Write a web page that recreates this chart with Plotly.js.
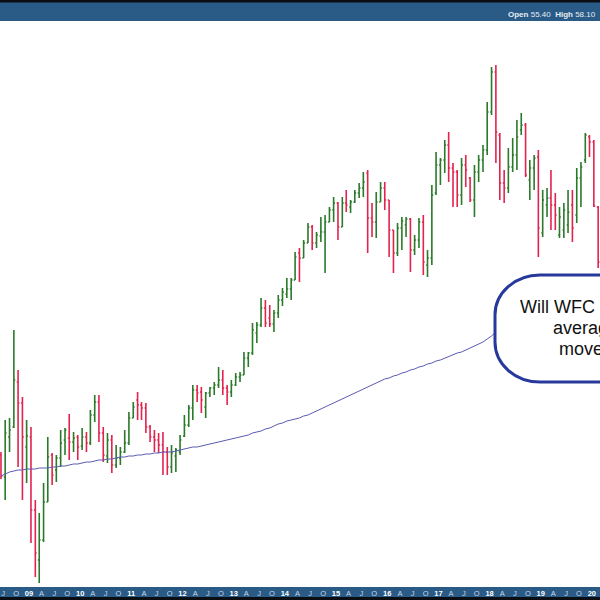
<!DOCTYPE html>
<html><head><meta charset="utf-8">
<script src="https://cdn.plot.ly/plotly-3.0.1.min.js"></script>
<style>html,body{margin:0;padding:0;background:#fff}#chart{width:600px;height:600px}</style>
</head><body><div id="chart"></div>
<script>
// Monthly bars, first bar = June 2008
const firstYear = 2008, firstMonth = 6;

const open = [
19.5,17.3,21.3,22.3,26.8,24.7,20.3,
21.3,14.0,9.0,11.0,14.8,19.5,18.0,19.2,21.0,21.2,20.8,21.3,
20.4,21.3,20.7,23.5,24.8,21.7,19.4,21.0,18.5,19.2,19.8,20.7,
23.2,25.0,24.5,24.2,22.3,21.3,21.0,20.5,19.8,18.3,19.4,19.8,
21.4,22.5,24.2,26.0,25.8,24.3,25.7,26.2,26.5,27.0,26.2,25.8,
26.5,27.3,27.5,29.2,29.7,31.7,32.5,34.2,33.2,32.6,33.7,35.0,
35.6,36.1,37.0,39.7,39.2,40.7,42.3,40.7,41.4,41.8,42.8,44.0,
44.7,42.3,44.7,44.3,44.8,45.7,46.2,47.7,43.2,42.8,44.8,46.2,
45.0,42.0,39.7,42.2,42.5,43.1,40.0,41.0,42.8,38.5,39.2,45.7,
48.5,49.0,50.5,48.2,47.8,45.5,48.5,47.2,45.0,47.8,49.0,50.0,
53.8,57.8,51.5,46.7,46.2,48.3,49.5,52.0,52.5,47.0,48.2,49.3,
41.7,44.5,45.2,44.5,41.5,42.0,42.5,44.5,43.5,47.2,49.0,51.3,
50.8,44.3];

const high = [
19.8,23.0,23.2,32.0,28.0,25.3,23.0,
22.3,15.0,13.7,16.7,21.3,19.7,19.5,22.0,22.2,23.6,21.8,21.5,
22.2,21.8,24.0,25.5,25.5,22.3,21.7,21.5,20.5,20.3,22.0,23.8,
24.8,25.8,24.8,24.7,22.5,22.0,21.7,21.8,20.3,20.5,20.2,21.5,
23.5,24.5,26.5,26.5,26.3,25.8,26.3,26.8,28.3,28.0,26.5,27.0,
27.7,27.8,29.8,29.8,32.7,32.8,35.2,35.0,34.5,34.0,35.5,36.2,
37.2,37.2,39.8,40.2,41.0,42.7,42.5,41.8,43.3,43.5,44.3,45.3,
44.8,45.3,46.0,45.0,46.0,46.7,47.8,48.0,44.7,45.8,46.8,46.8,
45.0,42.0,42.7,43.3,43.3,43.2,41.5,43.2,43.5,40.0,46.5,49.8,
49.2,51.0,51.8,48.7,48.0,49.2,49.5,47.3,48.5,49.5,50.5,54.8,
58.3,58.5,51.7,48.0,50.2,51.2,53.0,53.7,52.7,49.0,49.5,50.0,
46.0,46.2,48.0,45.7,44.3,44.7,46.0,46.0,48.2,48.8,51.7,51.5,
51.0,44.4];

const low = [
17.1,15.0,19.8,22.2,18.3,15.0,16.7,
10.7,7.3,6.7,10.8,14.8,16.5,16.8,18.3,19.5,19.0,19.8,19.0,
20.0,19.8,20.5,22.8,20.8,18.8,18.7,17.7,18.2,18.5,19.7,20.5,
23.2,23.0,23.0,21.7,20.8,19.8,19.7,17.5,17.5,17.7,17.8,19.5,
21.3,22.3,23.0,24.8,23.7,23.2,25.3,25.5,26.2,25.5,24.5,25.3,
26.4,26.8,27.5,28.3,29.5,30.7,32.3,32.3,32.3,31.8,33.2,34.4,
35.2,35.0,37.0,36.8,39.2,40.7,40.0,40.2,40.8,37.7,42.8,42.8,
41.0,42.3,43.8,43.7,44.7,45.2,45.3,39.7,41.3,41.2,44.8,44.0,
39.3,37.7,39.4,40.0,41.3,37.8,39.5,40.2,37.5,37.3,38.5,45.5,
46.5,47.7,46.8,44.3,44.3,44.5,46.3,44.8,43.3,46.8,47.8,49.5,
53.5,48.7,45.0,44.7,45.7,47.8,48.0,51.5,47.3,45.0,46.0,39.3,
41.3,43.3,42.0,42.0,41.2,41.2,41.7,40.8,42.7,44.3,48.7,49.3,
44.3,38.2];

const close = [
17.4,21.7,22.0,27.0,24.7,21.3,21.4,
14.0,9.7,11.0,14.8,19.3,17.5,19.2,20.7,22.0,20.8,21.2,20.3,
21.3,20.7,23.5,24.8,21.7,19.5,21.0,18.5,19.2,19.8,20.7,23.2,
24.3,24.5,24.2,22.3,21.3,21.0,20.5,19.8,18.3,19.7,20.0,21.0,
22.5,24.2,26.0,25.7,25.0,25.7,26.2,26.5,27.0,26.2,25.8,26.5,
27.3,27.5,29.2,29.7,32.0,32.5,34.2,32.7,32.6,33.7,35.0,35.8,
36.1,37.0,39.3,39.2,40.7,42.3,40.7,41.5,41.8,42.8,44.0,44.7,
42.3,44.7,44.5,44.8,45.7,46.2,46.8,43.2,42.8,44.8,46.2,45.0,
42.0,39.7,42.2,42.9,43.1,40.0,41.0,42.8,38.8,39.2,45.5,48.5,
49.0,50.5,48.2,47.8,45.5,48.5,48.0,45.0,47.8,49.0,50.0,53.8,
57.8,51.8,46.7,46.2,48.3,49.5,51.3,52.5,47.5,48.2,49.2,42.2,
45.0,45.2,44.5,43.5,43.3,44.0,43.8,42.2,47.2,48.3,51.5,50.8,
44.4,38.8];

// Moving average, visible up to Feb 2018 (hidden by the callout after that)
const movingAvg = [
17.4,17.6,17.8,17.9,18.0,18.0,18.1,
18.1,18.1,18.2,18.2,18.2,18.3,18.3,18.4,18.4,18.5,18.6,18.6,
18.7,18.8,18.8,18.9,19.0,19.0,19.1,19.1,19.2,19.3,19.3,19.4,
19.4,19.5,19.5,19.6,19.6,19.7,19.7,19.8,19.8,19.8,19.9,20.0,
20.1,20.2,20.3,20.3,20.4,20.5,20.6,20.7,20.8,20.9,21.0,21.1,
21.2,21.3,21.4,21.5,21.7,21.8,21.9,22.1,22.2,22.4,22.6,22.7,
22.9,23.0,23.1,23.2,23.4,23.5,23.7,23.9,24.1,24.3,24.5,24.7,
24.9,25.1,25.3,25.5,25.7,25.9,26.1,26.3,26.5,26.7,26.9,27.1,
27.2,27.4,27.5,27.7,27.8,28.0,28.1,28.3,28.4,28.6,28.7,28.9,
29.0,29.2,29.3,29.5,29.7,29.8,30.0,30.2,30.4,30.6,30.8,31.1,
31.4,31.8];

const tickLabels = ['J','O','09','A','J','O','10','A','J','O','11','A','J','O','12',
'A','J','O','13','A','J','O','14','A','J','O','15','A','J','O','16','A','J','O','17',
'A','J','O','18','A','J','O','19','A','J','O','20'];
const firstTick = [2008, 7];

function ym(y, m, d) { return y + '-' + String(m).padStart(2, '0') + '-' + d; }
const months = open.map((_, i) => {
  const k = firstMonth - 1 + i;
  return ym(firstYear + Math.floor(k / 12), k % 12 + 1, '15');
});
const tickVals = tickLabels.map((_, i) => {
  const k = firstTick[1] - 1 + 3 * i;
  return ym(firstTick[0] + Math.floor(k / 12), k % 12 + 1, '01');
});
const tickText = tickLabels.map(t => /\d/.test(t) ? '<b>' + t + '</b>' :
  '<span style="color:#c9d6e4">' + t + '</span>');

// pixel -> paper helpers for decorations
const W = 600, T = 21, B = 13, H = 600 - T - B;
const px = x => x / W, py = y => (600 - B - y) / H;
const P = (x, y) => px(x).toFixed(4) + ',' + py(y).toFixed(4);
const calloutPath = 'M ' + P(760, 275) + ' L ' + P(540, 275) +
  ' C ' + P(515.1, 275) + ' ' + P(495, 292.9) + ' ' + P(495, 315) +
  ' L ' + P(495, 342) +
  ' C ' + P(495, 364.1) + ' ' + P(515.1, 382) + ' ' + P(540, 382) +
  ' L ' + P(760, 382) + ' Z';

const traces = [
  {
    type: 'ohlc', x: months, open: open, high: high, low: low, close: close,
    increasing: { line: { color: '#2a7a2a', width: 1.6 } },
    decreasing: { line: { color: '#e2234f', width: 1.6 } },
    tickwidth: 0.35, hoverinfo: 'skip'
  },
  {
    type: 'scatter', mode: 'lines', x: months.slice(0, movingAvg.length), y: movingAvg,
    line: { color: '#5a5ab2', width: 1 }, hoverinfo: 'skip'
  }
];

const font = 'Liberation Sans, Arial, sans-serif';
const layout = {
  width: 600, height: 600,
  margin: { l: 0, r: 0, t: T, b: B, pad: 0 },
  paper_bgcolor: '#2a5a86', plot_bgcolor: '#ffffff',
  showlegend: false,
  xaxis: {
    type: 'date', range: ['2008-06-08', '2020-02-28'],
    rangeslider: { visible: false },
    tickmode: 'array', tickvals: tickVals, ticktext: tickText,
    ticks: '', showgrid: false, zeroline: false, showline: false,
    tickfont: { family: font, size: 7.5, color: '#ffffff' }, tickangle: 0
  },
  yaxis: { range: [6.3, 62.9], visible: false, showgrid: false, zeroline: false },
  shapes: [
    { type: 'rect', xref: 'paper', yref: 'paper', x0: 0, x1: 1, y0: py(0), y1: py(2.5),
      fillcolor: '#0b0f14', line: { width: 0 } },
    { type: 'rect', xref: 'paper', yref: 'paper', x0: 0, x1: 1, y0: py(597), y1: py(600),
      fillcolor: '#0b0f14', line: { width: 0 } },
    { type: 'path', xref: 'paper', yref: 'paper', path: calloutPath,
      fillcolor: '#ffffff', line: { color: '#27399a', width: 3 }, layer: 'above' }
  ],
  annotations: [
    { xref: 'paper', yref: 'paper', x: px(598), y: py(14.5), xanchor: 'right', yanchor: 'middle',
      showarrow: false, text: '<b>Open</b> 55.40  <b>High</b> 58.10',
      font: { family: font, size: 8, color: '#e6edf4' } },
    { xref: 'paper', yref: 'paper', x: px(518), y: py(307), xanchor: 'left', yanchor: 'middle',
      showarrow: false, text: 'Will WFC  hold its', font: { family: font, size: 18, color: '#111111' } },
    { xref: 'paper', yref: 'paper', x: px(551), y: py(327.5), xanchor: 'left', yanchor: 'middle',
      showarrow: false, text: 'average as it', font: { family: font, size: 18, color: '#111111' } },
    { xref: 'paper', yref: 'paper', x: px(557), y: py(348.5), xanchor: 'left', yanchor: 'middle',
      showarrow: false, text: 'moves lower?', font: { family: font, size: 18, color: '#111111' } }
  ]
};

Plotly.newPlot('chart', traces, layout, { staticPlot: true, displayModeBar: false });
</script>
</body></html>
